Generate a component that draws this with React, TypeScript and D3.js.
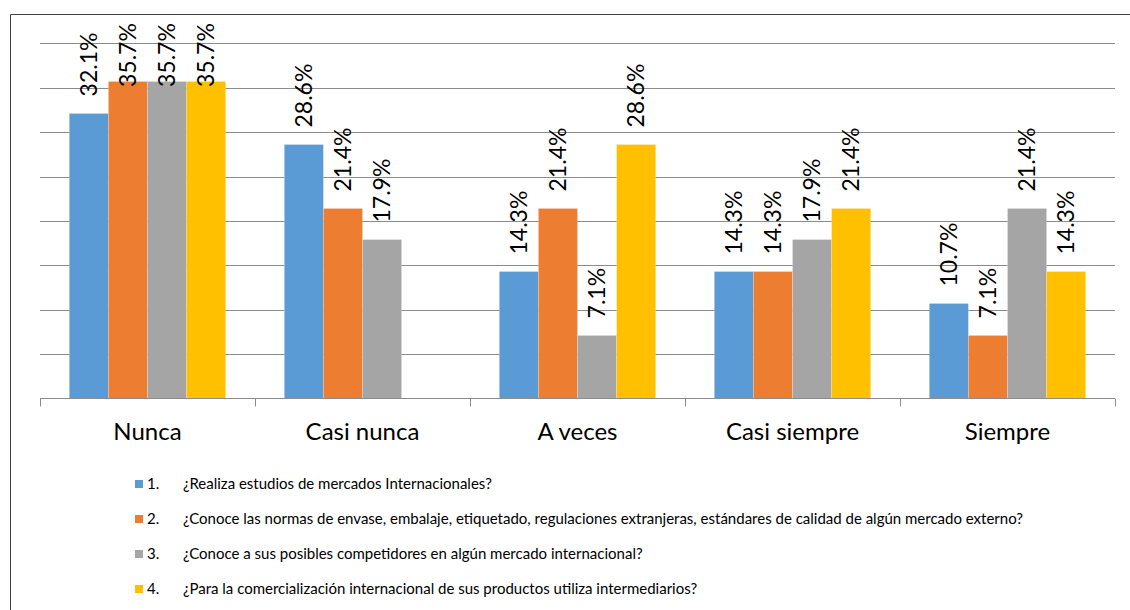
import React from "react";
import * as d3 from "d3";

const categories = ["Nunca", "Casi nunca", "A veces", "Casi siempre", "Siempre"];
const seriesNames = [
  "¿Realiza estudios de mercados Internacionales?",
  "¿Conoce las normas de envase, embalaje, etiquetado, regulaciones extranjeras, estándares de calidad de algún mercado externo?",
  "¿Conoce a sus posibles competidores en algún mercado internacional?",
  "¿Para la comercialización internacional de sus productos utiliza intermediarios?",
];
const series1 = [32.1, 28.6, 14.3, 14.3, 10.7];
const series2 = [35.7, 21.4, 21.4, 14.3, 7.1];
const series3 = [35.7, 17.9, 7.1, 17.9, 21.4];
const series4: (number | null)[] = [35.7, null, 28.6, 21.4, 14.3];
const seriesValues = [series1, series2, series3, series4];
const colors = ["#5B9BD5", "#ED7D31", "#A5A5A5", "#FFC000"];
const yTicks = [0, 5, 10, 15, 20, 25, 30, 35, 40];

const FONT = "Lato, 'Open Sans', sans-serif";

export default function App() {
  const W = 1130, H = 610;
  const x0 = d3.scaleBand<string>().domain(categories).range([40, 1115]).padding(0);
  const bw = x0.bandwidth();
  const gap = 29.3;
  const x1 = d3.scaleBand<number>().domain([0, 1, 2, 3]).range([gap, bw - gap]).padding(0);
  const y = d3.scaleLinear().domain([0, 40]).range([398.5, 43.3]);
  const minLabelStart = 87;

  return (
    <svg width={W} height={H} style={{ position: "absolute", left: 0, top: 0, background: "#fff" }}>
      <path d={`M10.5,${H} V14.5 H${W}`} fill="none" stroke="#404040" strokeWidth={1} />
      {yTicks.slice(1).map((t) => (
        <line key={t} x1={40} x2={1115} y1={Math.round(y(t)) + 0.5} y2={Math.round(y(t)) + 0.5} stroke="#8c8c8c" strokeWidth={1} />
      ))}
      {seriesValues.map((vals, si) =>
        vals.map((v, ci) => {
          if (v == null) return null;
          const bx = (x0(categories[ci]) as number) + (x1(si) as number);
          const top = y(v);
          return (
            <rect key={`${si}-${ci}`} x={bx} y={top} width={x1.bandwidth()} height={y(0) - top} fill={colors[si]} stroke="#fff" strokeOpacity={0.35} strokeWidth={0.6} />
          );
        })
      )}
      <line x1={40} x2={1115} y1={398.5} y2={398.5} stroke="#8c8c8c" strokeWidth={1} />
      {d3.range(categories.length + 1).map((i) => {
        const xx = Math.round(40 + i * bw) + 0.5;
        return <line key={i} x1={xx} x2={xx} y1={398.5} y2={406.5} stroke="#8c8c8c" strokeWidth={1} />;
      })}
      {seriesValues.map((vals, si) =>
        vals.map((v, ci) => {
          if (v == null) return null;
          const cx = (x0(categories[ci]) as number) + (x1(si) as number) + x1.bandwidth() / 2;
          const start = Math.max(y(v) - 17, minLabelStart);
          return (
            <text key={`l${si}-${ci}`} transform={`translate(${cx + 8},${start}) rotate(-90)`} fontFamily={FONT} fontSize={23} fill="#000">
              {v.toFixed(1) + "%"}
            </text>
          );
        })
      )}
      {categories.map((c) => (
        <text key={c} x={(x0(c) as number) + bw / 2} y={440} textAnchor="middle" fontFamily={FONT} fontSize={24} fill="#000">
          {c}
        </text>
      ))}
      {seriesNames.map((name, i) => {
        const cy = 484 + i * 35;
        return (
          <g key={i}>
            <rect x={135} y={cy - 4} width={8} height={8} fill={colors[i]} />
            <text x={147} y={cy + 5} fontFamily={FONT} fontSize={15} fill="#000">{`${i + 1}.`}</text>
            <text x={183} y={cy + 5} fontFamily={FONT} fontSize={15} fill="#000">{name}</text>
          </g>
        );
      })}
    </svg>
  );
}
